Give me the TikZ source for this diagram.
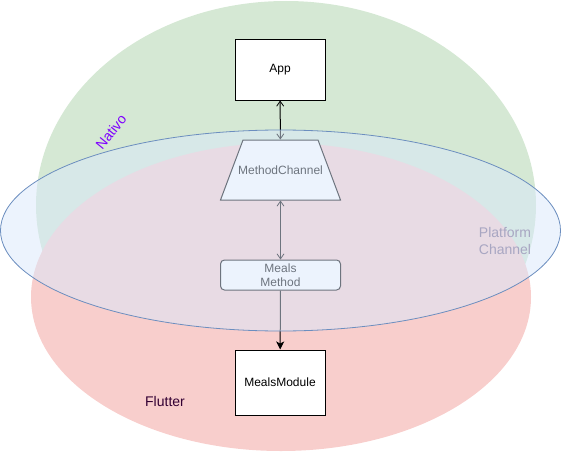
\documentclass[tikz,border=0pt]{standalone}
\usepackage{fontspec}
\setmainfont{Liberation Sans}
\usetikzlibrary{shapes.geometric,arrows.meta}

\definecolor{nativofill}{HTML}{D5E8D4}
\definecolor{flutterfill}{HTML}{F8CECC}
\definecolor{channelfill}{HTML}{DAE8FC}
\definecolor{channelline}{HTML}{6C8EBF}
\definecolor{nativotext}{HTML}{7F00FF}
\definecolor{fluttertext}{HTML}{330033}
\definecolor{platformtext}{HTML}{A8A6C2}

\tikzset{
	box/.style={draw=black, fill=white, line width=1pt, font=\fontsize{12}{14}\selectfont},
	openend/.tip={Straight Barb[length=5pt,width=7pt,line width=0.8pt]},
	fullend/.tip={Stealth[length=8pt,width=8pt,inset=2pt]},
}

\begin{document}
\begin{tikzpicture}[x=1pt,y=-1pt]
		\useasboundingbox (0,0) rectangle (562,452);
		\fill[nativofill] (286,205) ellipse [x radius=250, y radius=204];
		\fill[flutterfill] (281,297) ellipse [x radius=250, y radius=154];
		\node[box, minimum width=90pt, minimum height=60pt] (app) at (280,70) {App};
		\node[box, trapezium, trapezium angle=69.44, inner xsep=37.5pt, inner ysep=30pt,
			label={[font=\fontsize{12}{14}\selectfont]center:MethodChannel}] (channel) at (280.5,170) {};
		\node[box, rounded corners=4pt, minimum width=120pt, minimum height=30pt,
			align=center, inner sep=0pt] (method) at (280.5,275) {Meals\\Method};
		\node[box, minimum width=90pt, minimum height=65pt] (module) at (280,382.5) {MealsModule};
		\draw[line width=1pt, {openend}-{openend}] (app) -- (channel);
		\draw[line width=1pt, {openend}-{openend}] (channel) -- (method);
		\draw[line width=1pt, -{fullend}] (method) -- (module);
		\filldraw[fill=channelfill, fill opacity=0.5, draw=channelline, line width=0.8pt]
			(280.5,230.5) ellipse [x radius=280, y radius=100.5];
		\node[font=\fontsize{14}{17}\selectfont, text=platformtext, align=center] (platform) at (505,241) {Platform\\Channel};
		\node[font=\fontsize{14}{17}\selectfont, text=nativotext, rotate=51] (nativo) at (111,132) {Nativo};
		\node[font=\fontsize{14}{17}\selectfont, text=fluttertext] (flutter) at (165,401) {Flutter};
	\end{tikzpicture}
\end{document}
